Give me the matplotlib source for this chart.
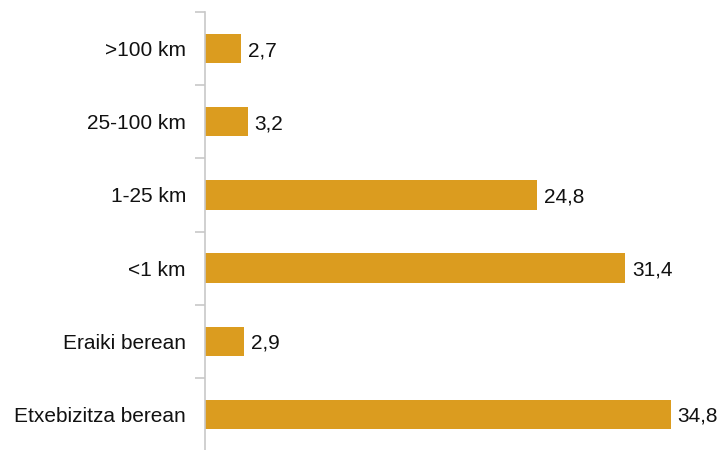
import matplotlib
matplotlib.use("Agg")
import matplotlib.pyplot as plt

kategoriak = [">100 km", "25-100 km", "1-25 km", "<1 km", "Eraiki berean", "Etxebizitza berean"]
balioak = [2.7, 3.2, 24.8, 31.4, 2.9, 34.8]

plt.rcParams['font.family'] = ['Liberation Sans', 'DejaVu Sans']

fig = plt.figure(figsize=(7.28, 4.5), dpi=100)
# ardatza: x 205px-700px, y 12px-451px
ax = fig.add_axes([205/728, -1/450, 495/728, 439/450])

n = len(kategoriak)
pos = list(range(n))
ax.barh(pos, balioak, height=0.4, color="#DB9C1F")
ax.set_ylim(n - 0.5, -0.5)
ax.set_xlim(0, 495/13.39)

for p, v in zip(pos, balioak):
    ax.text(v + 0.5, p, f"{v:.1f}".replace(".", ","), va="center_baseline", ha="left",
            fontsize=15, color="#111111")

# marrak kategorien artean
ax.set_yticks([i - 0.5 for i in range(n + 1)])
ax.set_yticklabels([])
ax.tick_params(axis="y", which="major", length=7.5, width=1.2, color="#c8c8c8")
ax.set_yticks(pos, minor=True)
ax.set_yticklabels(kategoriak, minor=True, fontsize=15, color="#111111")
ax.tick_params(axis="y", which="minor", length=0, pad=13.7)
for t in ax.get_yticklabels(minor=True):
    t.set_verticalalignment("center_baseline")

ax.set_xticks([])
for s in ["top", "right", "bottom"]:
    ax.spines[s].set_visible(False)
ax.spines["left"].set_color("#c8c8c8")
ax.spines["left"].set_linewidth(1.2)

fig.savefig("out.png", dpi=100)
